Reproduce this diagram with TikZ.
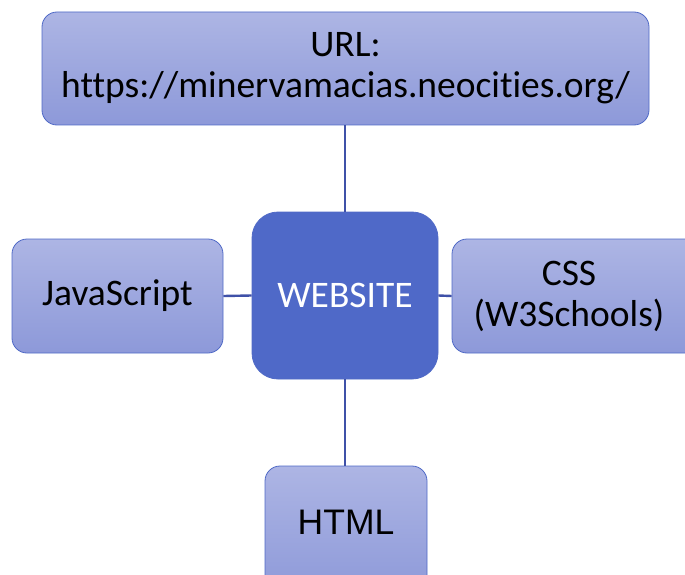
\documentclass[tikz,border=0pt]{standalone}
\usepackage{fontspec}
\setmainfont{Carlito}[Ligatures={NoCommon}]
\newfontfamily\htmlfont{Liberation Sans}
\definecolor{boxtop}{HTML}{ADB5E4}
\definecolor{boxbot}{HTML}{8D99D9}
\definecolor{edge}{HTML}{4F69C6}
\definecolor{center}{HTML}{4F69C8}
\definecolor{link}{HTML}{3F51A8}
\begin{document}
\begin{tikzpicture}[x=1pt,y=-1pt,
  txt/.style={font=\fontsize{37.5}{41}\selectfont},
  lightbox/.style={draw=edge,line width=0.8pt,rounded corners=15pt,top color=boxtop,bottom color=boxbot,inner sep=0pt,align=center,txt},
  centerbox/.style={draw=edge,line width=0.8pt,rounded corners=26pt,fill=center,inner sep=0pt,align=center,text=white,txt},
  link/.style={draw=link,line width=2.4pt}]
\useasboundingbox (0,0) rectangle (685,575);
\clip (0,0) rectangle (685,575);
\node[lightbox,minimum width=607pt,minimum height=113pt] (url) at (345.5,68.5) {URL:\\https://minervamacias.neocit\kern0pt ies.org/};
\node[centerbox,minimum width=186pt,minimum height=167pt] (web) at (345,295.5) {WEBSITE};
\node[lightbox,minimum width=211pt,minimum height=114pt] (js) at (117.5,296) {JavaScript};
\node[lightbox,minimum width=250pt,minimum height=114pt] (css) at (577,296) {};
\node[align=center,txt] (csstext) at (569,296) {CSS\\(W3Schools)};
\node[lightbox,minimum width=162pt,minimum height=130pt] (html) at (346,531) {};
\node[font=\htmlfont\fontsize{35.5}{40}\selectfont] (htmltext) at (346,522) {HTML};
\draw[link] (url.south -| web.north) -- (web.north);
\draw[link] (web.south) -- (web.south |- html.north);
\draw[link] (js.east) -- (web.west);
\draw[link] (web.east) -- (css.west);
\end{tikzpicture}
\end{document}
